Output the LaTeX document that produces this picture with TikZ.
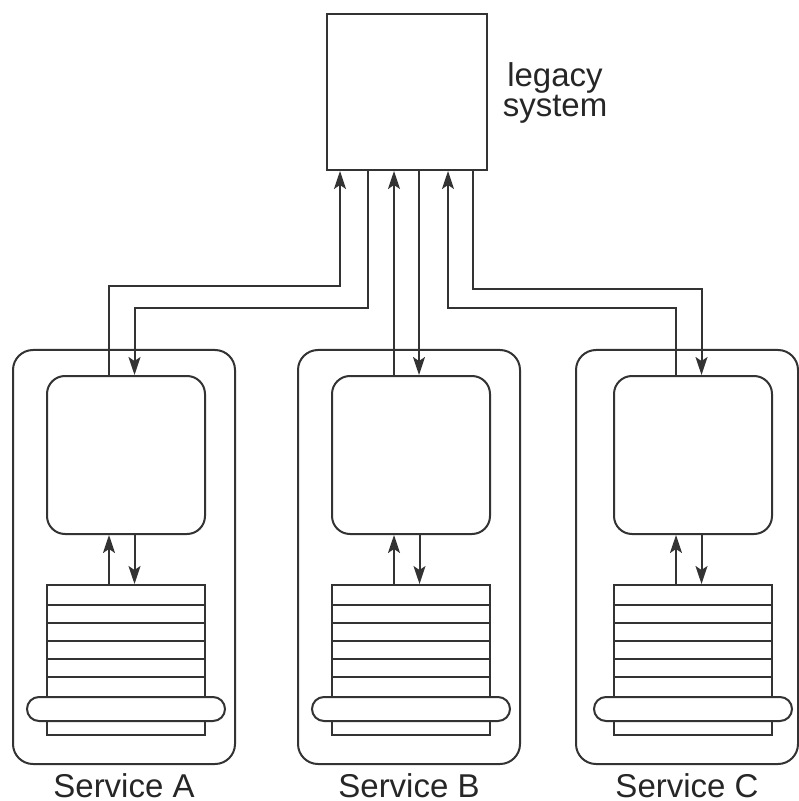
\documentclass[tikz,border=0pt]{standalone}
\usepackage{fontspec}
\setsansfont{Liberation Sans}
\usetikzlibrary{calc,arrows.meta}

\begin{document}
\begin{tikzpicture}[x=0.5pt,y=-0.5pt,line width=1pt,draw=black!80,
font=\sffamily\fontsize{16.5}{14}\selectfont,text=black!85,
svc/.style={draw,rounded corners=10pt,minimum width=111pt,minimum height=207pt},
proc/.style={draw,fill=white,rounded corners=9pt,minimum width=79pt,minimum height=79pt},
store/.style={draw,minimum width=79pt,minimum height=75pt},
ring/.style={draw,fill=white,rounded corners=6pt,minimum width=99pt,minimum height=12pt},
flow/.style={-{Stealth[length=9pt,width=6pt,inset=2pt]}}]
\useasboundingbox (0,0) rectangle (798,801);
\node[draw,minimum width=80pt,minimum height=78pt] (leg) at (407,92) {};
\node[align=center,inner sep=0pt] (legtxt) at (555,93) {legacy\\system};
\foreach \s/\cx/\ox in {A/126/124,B/411/409,C/693/687}{
  \node[svc] (s\s) at (\ox,557) {};
  \node[proc] (p\s) at (\cx,455) {};
  \node[store] (d\s) at (\cx,660) {};
  \foreach \y in {605,623,641,659,677}{\draw (d\s.west |- 0,\y) -- (d\s.east |- 0,\y);}
  \node[ring] (r\s) at (\cx,709) {};
  \node[anchor=base] (l\s) at (\ox,797) {Service \s};
  \draw[flow] ($(d\s.north)+(-17,0)$) -- ($(p\s.south)+(-17,0)$);
  \draw[flow] ($(p\s.south)+(8.5,0)$) -- ($(d\s.north)+(8.5,0)$);
}
% links to the legacy system
\draw[flow] ($(pA.north)+(-17,0)$) -- ++(0,-89) -| ($(leg.south)+(-67,0)$);
\draw[flow] ($(leg.south)+(-39,0)$) -- ++(0,137) -| ($(pA.north)+(8.5,0)$);
\draw[flow] ($(pB.north)+(-17,0)$) coordinate (b1) -- (b1 |- leg.south);
\draw[flow] ($(leg.south)+(12,0)$) coordinate (b2) -- (b2 |- pB.north);
\draw[flow] ($(pC.north)+(-17,0)$) -- ++(0,-67) -| ($(leg.south)+(41,0)$);
\draw[flow] ($(leg.south)+(66,0)$) -- ++(0,118) -| ($(pC.north)+(8.5,0)$);
\end{tikzpicture}
\end{document}
